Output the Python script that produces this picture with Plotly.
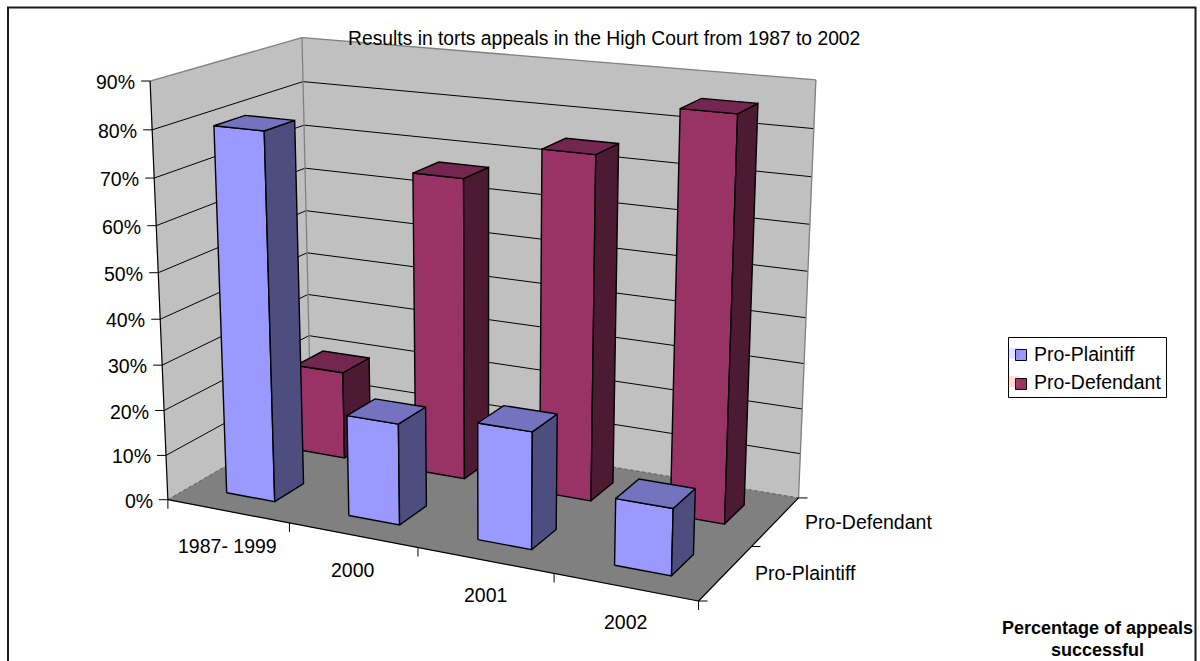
import numpy as np
import plotly.graph_objects as go

# Chart data (percentage of appeals successful)
categories = ["1987- 1999", "2000", "2001", "2002"]
series_names = ["Pro-Plaintiff", "Pro-Defendant"]
pro_plaintiff = [80, 22, 25, 14]
pro_defendant = [20, 67, 75, 86]
percent_ticks = list(range(0, 100, 10))
title_text = "Results in torts appeals in the High Court from 1987 to 2002"
note_lines = ["Percentage of appeals", "successful"]

# Colours per series: front, top, side
FACE_COLOURS = [
    ("#9999FF", "#7373BF", "#4D4D80"),
    ("#993366", "#732650", "#4D1A33"),
]
WALL = "#C0C0C0"
FLOOR = "#808080"
EDGE = "#808080"
FONT = "Liberation Sans"
TEXT_SIZE = 19.5

# Camera for the oblique 3D box: (category pos, percent, depth pos) -> screen position.
# Solved below as a 3x4 projective matrix from known box landmarks.
landmarks = [
    (0, 0, 0, 167.7, 499.3), (0, 90, 0, 150.0, 81.3), (0, 90, 2, 302.0, 37.7),
    (0, 0, 2, 311.0, 417.0), (4, 90, 2, 815.7, 80.0), (4, 0, 2, 798.3, 497.7),
    (4, 0, 0, 698.7, 601.0), (1, 0, 0, 289.3, 522.7), (2, 0, 0, 417.3, 547.5),
    (3, 0, 0, 554.3, 573.3), (4, 0, 1, 751.7, 546.7), (0, 80, 0, 152.3, 129.3),
    (0, 70, 0, 154.3, 178.3), (0, 30, 0, 162.3, 365.0), (0, 20, 0, 164.3, 411.0),
    (0, 10, 0, 166.0, 455.7), (0, 80, 2, 302.3, 81.3), (0, 70, 2, 304.3, 125.0),
    (0, 60, 2, 305.3, 168.3), (0, 50, 2, 306.0, 210.7), (4, 80, 2, 814.0, 128.7),
]


def solve_camera(points):
    rows = []
    for u, h, w, x, y in points:
        p = [u / 4, h / 90, w / 2, 1]
        rows.append(p + [0, 0, 0, 0] + [-x * v for v in p])
        rows.append([0, 0, 0, 0] + p + [-y * v for v in p])
    _, _, vt = np.linalg.svd(np.array(rows, dtype=float))
    return vt[-1].reshape(3, 4)


CAMERA = solve_camera(landmarks)


def project(u, h, w):
    q = CAMERA @ np.array([u / 4, h / 90, w / 2, 1.0])
    return float(q[0] / q[2]), float(q[1] / q[2])


fig = go.Figure()


def polygon(corners, fill, line_colour="black", width=1.4, name=None, value=None):
    pts = [project(*c) for c in corners]
    pts.append(pts[0])
    fig.add_trace(go.Scatter(
        x=[p[0] for p in pts], y=[p[1] for p in pts], mode="lines",
        fill="toself", fillcolor=fill, line=dict(color=line_colour, width=width),
        showlegend=False, name=name,
        hoverinfo="skip" if value is None else "text",
        text=None if value is None else f"{name}: {value}%",
    ))


def segment(a, b, colour="black", width=1.0, dash="solid"):
    fig.add_trace(go.Scatter(
        x=[a[0], b[0]], y=[a[1], b[1]], mode="lines",
        line=dict(color=colour, width=width, dash=dash),
        showlegend=False, hoverinfo="skip",
    ))


# Walls and floor
polygon([(0, 0, 0), (0, 90, 0), (0, 90, 2), (0, 0, 2)], WALL, WALL, 0.5)
polygon([(0, 0, 2), (0, 90, 2), (4, 90, 2), (4, 0, 2)], WALL, WALL, 0.5)
polygon([(0, 0, 0), (4, 0, 0), (4, 0, 2), (0, 0, 2)], FLOOR, FLOOR, 0.5)

# Gridlines on the two walls
for t in percent_ticks[1:-1]:
    segment(project(0, t, 0), project(0, t, 2))
    segment(project(0, t, 2), project(4, t, 2))

# Wall outlines
segment(project(0, 90, 0), project(0, 90, 2), EDGE, 1.3)
segment(project(0, 90, 2), project(4, 90, 2), EDGE, 1.3)
segment(project(0, 90, 2), project(0, 0, 2), EDGE, 1.3)
segment(project(4, 90, 2), project(4, 0, 2), EDGE, 1.3)
segment(project(0, 0, 0), project(0, 0, 2), "#5A5A5A", 1.0, "dot")
segment(project(0, 0, 2), project(4, 0, 2), "#5A5A5A", 1.0, "dot")

# Axis lines and tick marks
segment(project(0, 0, 0), project(0, 90, 0), "black", 1.2)
segment(project(0, 0, 0), project(4, 0, 0), "black", 1.2)
segment(project(4, 0, 0), project(4, 0, 2), "black", 1.2)

TICK = 9
for t in percent_ticks:
    x, y = project(0, t, 0)
    segment((x - TICK, y), (x, y))
for u in range(len(categories) + 1):
    x, y = project(u, 0, 0)
    segment((x, y), (x, y + TICK))
for w in range(len(series_names) + 1):
    x, y = project(4, 0, w)
    segment((x, y), (x + TICK, y))

# Bars, far row first so the near row covers it
NEAR, FAR = 0.3, 0.7
rows = [(1, series_names[1], pro_defendant, FACE_COLOURS[1]),
        (0, series_names[0], pro_plaintiff, FACE_COLOURS[0])]
for row, name, values, (front, top, side) in rows:
    for i, v in enumerate(values):
        u0, u1 = i + NEAR, i + FAR
        w0, w1 = row + NEAR, row + FAR
        polygon([(u0, 0, w0), (u1, 0, w0), (u1, v, w0), (u0, v, w0)], front, name=name, value=v)
        polygon([(u1, 0, w0), (u1, 0, w1), (u1, v, w1), (u1, v, w0)], side, name=name, value=v)
        polygon([(u0, v, w0), (u1, v, w0), (u1, v, w1), (u0, v, w1)], top, name=name, value=v)

annotations = []


def label(x, y, text, anchor="center", size=TEXT_SIZE, bold=False):
    annotations.append(dict(
        x=x, y=y, xref="x", yref="y", text=f"<b>{text}</b>" if bold else text,
        showarrow=False, xanchor=anchor, yanchor="middle",
        font=dict(family=FONT, size=size, color="black"),
    ))


for t in percent_ticks:
    x, y = project(0, t, 0)
    label(x - TICK - 4, y + 1, f"{t}%", "right")
for i, c in enumerate(categories):
    x, y = project(i + 0.5, 0, 0)
    label(x, y + 35, c)
for j, s in enumerate(series_names):
    x, y = project(4, 0, j + 0.5)
    label(x + 27, y, s, "left")

label(603.5, 38, title_text, size=19.3)
label(1097.5, 628, note_lines[0], size=18, bold=True)
label(1097.5, 649.5, note_lines[1], size=18, bold=True)

# Legend: names from real legend entries, swatches set inside a hand-sized box
swatch_y = [355, 384]
for j, s in enumerate(series_names):
    fig.add_trace(go.Scatter(
        x=[None], y=[None], mode="markers", name=s, legendgroup=s,
        marker=dict(symbol="square", size=11, opacity=0),
    ))
fig.add_trace(go.Scatter(
    x=[1021, 1021], y=swatch_y, mode="markers", showlegend=False, hoverinfo="skip",
    marker=dict(symbol="square", size=11, color=[FACE_COLOURS[0][0], FACE_COLOURS[1][0]],
                line=dict(color="black", width=1)),
))

shapes = [
    dict(type="rect", xref="x", yref="y", x0=1008.5, x1=1166.5, y0=337.5, y1=397.5,
         line=dict(color="black", width=1), fillcolor="white", layer="below"),
    dict(type="path", xref="x", yref="y", path="M 8 670 L 8 7.5 L 1195.5 7.5 L 1195.5 670",
         line=dict(color="#1A1A1A", width=2), layer="above"),
]

fig.update_layout(
    width=1200, height=661,
    margin=dict(l=0, r=0, t=0, b=0, pad=0),
    paper_bgcolor="white", plot_bgcolor="white",
    xaxis=dict(range=[0, 1200], visible=False, fixedrange=True),
    yaxis=dict(range=[661, 0], visible=False, fixedrange=True),
    annotations=annotations, shapes=shapes,
    hovermode="closest",
    legend=dict(
        x=994 / 1200, xanchor="left", y=1 - 334 / 661, yanchor="top",
        bgcolor="rgba(0,0,0,0)", borderwidth=0,
        font=dict(family=FONT, size=TEXT_SIZE, color="black"),
        tracegroupgap=2, traceorder="normal",
    ),
)

fig.write_html("out.html", config=dict(displayModeBar=False))
